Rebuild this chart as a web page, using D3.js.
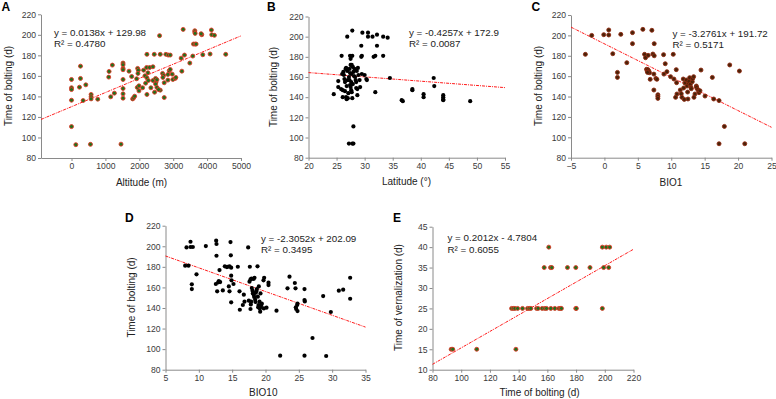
<!DOCTYPE html>
<html><head><meta charset="utf-8">
<script src="https://cdn.jsdelivr.net/npm/d3@7"></script>
<style>body{margin:0;background:#fff}svg{display:block;font-family:Arial,"Liberation Sans",sans-serif}</style>
</head><body><svg id="c" width="776" height="399"></svg>
<script>
// ---------- data ----------
const boltingTicks = [80,100,120,140,160,180,200,220];
const vernTicks = [10,15,20,25,30,35,40,45];
const altitudeTicks = [0,1000,2000,3000,4000,5000];
const latitudeTicks = [20,25,30,35,40,45,50,55];
const bio1Ticks = [-5,0,5,10,15,20,25];
const bio10Ticks = [5,10,15,20,25,30,35];
const boltingXTicks = [80,100,120,140,160,180,200,220];

// [altitude (m), time of bolting (d)]
const altitudeBolting = [[0,156.5],[0,148.4],[0,146.7],[0,136.3],[0,110.6],[127,93],[265,169.5],[265,157.5],[235,149],[343,136],[422,151.3],[559,93.3],[578,141.9],[578,139.6],[578,137.6],[775,137.3],[1108,164.3],[1098,158.8],[1157,139.6],[1206,170.5],[1265,143.2],[1460,93.5],[1520,172.5],[1520,170.8],[1520,167.3],[1520,166],[1520,156.5],[1520,147.7],[1520,142.5],[1520,138.3],[1696,164.6],[1775,159.4],[1804,137.6],[1833,138.6],[1863,140.2],[1922,157.2],[1941,148.7],[1951,167.3],[1971,165.6],[1961,162.4],[1990,145.4],[1990,150.3],[2098,148.4],[2127,165.6],[2167,160.1],[2186,152.9],[2225,181],[2216,168.2],[2255,163],[2225,158.1],[2265,155.5],[2225,141.9],[2304,168.2],[2343,148.4],[2402,168.9],[2402,155.5],[2441,181],[2451,144.1],[2480,157.5],[2490,153.6],[2480,152],[2520,156.2],[2520,148.7],[2598,199.2],[2618,181],[2618,146.1],[2569,146.7],[2686,162.4],[2716,160.4],[2696,158.5],[2735,153.3],[2735,138.9],[2784,181],[2853,180.3],[2912,180.3],[2843,161.4],[2843,155.9],[2882,165],[2912,166.3],[2971,161.7],[2990,156.5],[3059,157.5],[3078,158.5],[3255,164.6],[3235,177.3],[3294,205.3],[3333,180.3],[3490,172.5],[3578,179.3],[3598,191],[3647,191],[3676,191],[3637,204],[3637,202.7],[3647,201.4],[3843,200.1],[3824,201.1],[3873,180.6],[4088,181.3],[4127,204.7],[4137,200.1],[4216,199.5],[4549,181]];

// [latitude (°), time of bolting (d)]
const latitudeBolting = [[24.5,143],[25.3,156],[25.3,150],[25.9,181],[25.8,148],[26.1,147],[26.1,140],[26.2,165],[26.3,162],[26.4,158],[26.5,155],[26.6,168],[26.7,169],[26.8,151],[26.8,138],[26.9,166],[27.0,139],[26.9,200],[27.1,144],[27.2,160],[27.3,157],[27.4,152],[27.4,164],[27.5,150],[27.5,172],[27.4,181],[27.5,178],[27.7,172],[27.6,163],[27.8,181],[27.2,94],[27.8,94],[28.0,94],[28.0,111],[27.8,206],[27.6,147],[27.7,145],[27.8,139],[27.9,170],[28.0,165],[28.1,161],[28.2,168],[28.4,157],[28.5,155],[28.5,149],[28.6,166],[28.7,142],[28.7,148],[28.8,169],[29.1,157],[29.4,191],[29.4,180],[29.5,181],[29.5,163],[29.6,204],[30.0,162],[30.3,158],[30.4,157],[30.6,204],[30.6,200],[31.4,200],[31.6,180],[31.9,181],[31.9,145],[32.2,202],[32.2,191],[33.3,181],[33.3,200],[34.1,199],[34.5,159],[36.6,137],[36.8,136],[38.5,148],[38.5,147],[40.5,143],[40.5,140],[42.3,159],[42.4,151],[44.0,142],[44.0,140],[44.0,138],[44.0,137],[48.8,136],[26.0,163],[26.5,146],[27.0,157],[27.3,168],[27.6,155],[28.3,160],[26.7,140],[27.9,153],[28.9,162],[29.2,150]];

// [BIO1, time of bolting (d)]
const bio1Bolting = [[-2.85,181.4],[-1.9,200],[-0.1,200.7],[0.65,205.3],[0.65,200.4],[1.25,182],[1.95,163.7],[1.95,158.8],[2.45,201],[3.35,173.2],[4.2,202.7],[4.2,191.9],[5.75,205.9],[6.0,181.4],[6.15,178.1],[6.55,180.4],[6.3,166.7],[6.4,165],[6.5,166.5],[6.65,165],[6.75,163.4],[6.45,163.7],[6.85,156.9],[7.1,205],[7.25,181.7],[7.45,180],[7.45,191.9],[7.4,146.4],[7.4,162],[7.7,157.8],[7.85,156.9],[8.0,141.8],[8.0,140.2],[8.0,138.2],[8.9,162],[8.85,181.1],[9.1,172.2],[9.35,164.4],[9.9,159.5],[10.3,181.4],[10.4,157.2],[10.65,139.2],[10.75,166.4],[10.8,153.6],[10.85,142.5],[11.35,146.4],[11.5,142.8],[11.6,139.2],[11.8,157.2],[11.85,148.4],[11.95,137.2],[12.05,153.3],[12.25,156.2],[12.35,150.3],[12.45,144.4],[12.5,137.6],[12.6,153],[12.65,154.9],[12.75,158.5],[12.85,152],[12.95,149.1],[13,147.7],[13.15,154.6],[13.2,157.5],[13.35,159.5],[13.4,139.2],[13.55,142.5],[13.75,150.3],[13.8,149],[13.95,147],[14.1,145.7],[14.15,143.8],[14.3,145.7],[14.45,166],[15.05,140.5],[16.15,158.8],[16.35,137.6],[17.15,136],[17.95,110.7],[17.15,93.7],[18.75,171],[20.2,165],[21,93.7]];

// [BIO10, time of bolting (d)]
const bio10Bolting = [[7.95,181.1],[8.15,198.9],[8.45,181.1],[8.75,204.4],[8.75,199.3],[9.1,199.3],[8.95,163],[8.95,158.4],[9.65,172.7],[11.05,200.2],[12.6,205.4],[12.65,202.2],[12.65,190.8],[12.55,163.3],[12.75,156.2],[12.9,164.9],[13,166.2],[13.2,165.2],[13.1,176.9],[13.6,157.1],[13.9,180.5],[14.2,179.8],[14.35,180.1],[14.5,161],[14.6,156.2],[14.6,180.5],[14.75,204.1],[14.8,191.2],[14.85,179.2],[14.85,171.4],[14.9,166.9],[14.85,145.5],[15.2,163.3],[15.85,180.1],[16.1,156.2],[16.15,138.3],[16.6,142.9],[16.75,152.9],[16.85,146.1],[17.4,198.9],[17.5,147.1],[17.65,180.1],[17.6,165.6],[17.75,167.8],[17.9,168.5],[17.85,146.1],[17.75,139],[17.8,143.5],[17.95,159.4],[18.05,156.8],[18.1,154.2],[18.2,168.2],[18.25,152.6],[18.3,150.7],[18.35,169.4],[18.45,148.1],[18.5,145.8],[18.55,154.9],[18.65,156.5],[18.7,158.4],[18.8,180.5],[18.85,151],[18.9,140.6],[18.95,142.9],[19,161],[19.1,146.1],[19.15,139.6],[19.2,136.4],[19.25,154.2],[19.3,141.3],[19.35,142.9],[19.45,144.2],[19.75,139.6],[19.7,166.9],[19.8,169.4],[20.15,140.3],[20.45,164.6],[20.45,162.3],[21.65,137.4],[22.2,93.6],[23.3,159.1],[23.6,170.4],[24.4,164.3],[24.5,159.1],[24.55,140.6],[24.6,139],[24.75,142.9],[24.8,137],[24.8,144.2],[25.85,158.4],[25.85,147.7],[25.9,146.4],[25.85,93.6],[27.05,110.8],[28.65,151.6],[29.1,93.3],[29.8,136.1],[31,156.8],[31.65,157.8],[32.7,169.4],[32.7,149]];

// [time of bolting (d), time of vernalization (d)]
const boltingVern = [[93,15],[94.1,15],[110.8,15],[138.1,15],[135.1,25],[136.3,25],[137.4,25],[139.3,25],[142.7,25],[146.2,25],[147.4,25],[148.5,25],[152.5,25],[153.6,25],[156.4,25],[158.2,25],[159.4,25],[162.4,25],[165.2,25],[168,25],[169.1,25],[169.8,25],[179.8,25],[180.2,25],[198.3,25],[157.8,35],[162.2,35],[163.1,35],[174,35],[179.8,35],[189.7,35],[199.2,35],[202.7,35],[161,40],[198.3,40],[201,40],[203.4,40]];

const letters = ["A","B","C","D","E"];
const xTitles = ["Altitude (m)","Latitude (°)","BIO1","BIO10","Time of bolting (d)"];
const yTitles = ["Time of bolting (d)","Time of bolting (d)","Time of bolting (d)","Time of bolting (d)","Time of vernalization (d)"];
const slopes = [0.0138,-0.4257,-3.2761,-2.3052,0.2012];
const intercepts = [129.98,172.9,191.72,202.09,-4.7804];
const equations = ["y = 0.0138x + 129.98","y = -0.4257x + 172.9","y = -3.2761x + 191.72","y = -2.3052x + 202.09","y = 0.2012x - 4.7804"];
const r2s = ["R² = 0.4780","R² = 0.0087","R² = 0.5171","R² = 0.3495","R² = 0.6055"];

// ---------- layout ----------
const panels = [
 {data:altitudeBolting, xDom:[-900,5000], xTicks:altitudeTicks, yDom:[80,220], yTicks:boltingTicks,
  rect:{l:41,r:241,t:14.3,b:158}, style:"g", eq:[54,32.5], letter:[1.5,10.5], xt:[141.5,182], yt:[8.5,86]},
 {data:latitudeBolting, xDom:[20,55], xTicks:latitudeTicks, yDom:[80,220], yTicks:boltingTicks,
  rect:{l:308.5,r:505,t:16.5,b:157.7}, style:"k", eq:[409,32.5], letter:[267,10.5], xt:[406.5,181.5], yt:[273.5,87]},
 {data:bio1Bolting, xDom:[-5,25], xTicks:bio1Ticks, yDom:[80,220], yTicks:boltingTicks,
  rect:{l:571,r:771.5,t:15,b:157.7}, style:"c", eq:[672.5,33.5], letter:[531.5,10.5], xt:[671,182.5], yt:[538.5,86]},
 {data:bio10Bolting, xDom:[5,35], xTicks:bio10Ticks, yDom:[80,220], yTicks:boltingTicks,
  rect:{l:165.5,r:365.5,t:225.7,b:369.7}, style:"k", eq:[261,238.5], letter:[125,221.5], xt:[263.3,392.7], yt:[131.5,297.5]},
 {data:boltingVern, xDom:[80,220], xTicks:boltingXTicks, yDom:[10,45], yTicks:vernTicks,
  rect:{l:432.5,r:633.5,t:226.7,b:369.7}, style:"g", eq:[447.5,238], letter:[393,221.5], xt:[539.5,392.7], yt:[398,297.5]}
];

const styles = {
  g:{fill:"#22701c", stroke:"#e03a28"},
  c:{fill:"#4a2208", stroke:"#8e2a12"},
  k:{fill:"#000", stroke:"#000"}
};

const fmt = d3.format("d");
const svg = d3.select("#c");
panels.forEach((p,i)=>{
  const x = d3.scaleLinear().domain(p.xDom).range([p.rect.l,p.rect.r]);
  const y = d3.scaleLinear().domain(p.yDom).range([p.rect.b,p.rect.t]);
  const g = svg.append("g");

  const xa = g.append("g").attr("transform",`translate(0,${p.rect.b})`)
    .call(d3.axisBottom(x).tickValues(p.xTicks).tickFormat(fmt).tickSize(3).tickSizeOuter(0).tickPadding(2));
  const ya = g.append("g").attr("transform",`translate(${p.rect.l},0)`)
    .call(d3.axisLeft(y).tickValues(p.yTicks).tickFormat(fmt).tickSize(3).tickSizeOuter(0).tickPadding(2));
  [xa,ya].forEach(a=>{
    a.select(".domain").attr("stroke","#8a8a8a").attr("stroke-width",1);
    a.selectAll(".tick line").attr("stroke","#8a8a8a");
    a.selectAll(".tick text").attr("fill","#3a3a3a").attr("font-size","8.6px").attr("font-family","Arial, 'Liberation Sans', sans-serif");
  });

  // trendline
  g.append("line")
    .attr("x1",x(p.xDom[0])).attr("y1",y(slopes[i]*p.xDom[0]+intercepts[i]))
    .attr("x2",x(p.xDom[1])).attr("y2",y(slopes[i]*p.xDom[1]+intercepts[i]))
    .attr("stroke","#ff1a1a").attr("stroke-width",1).attr("stroke-dasharray","3,1,1,1");

  const st = styles[p.style];
  g.selectAll("circle.pt").data(p.data).enter().append("circle")
    .attr("class","pt")
    .attr("cx",d=>x(d[0])).attr("cy",d=>y(d[1])).attr("r",p.style==="k"?2.1:2.0)
    .attr("fill",st.fill).attr("stroke",st.stroke).attr("stroke-width",p.style==="k"?0:0.9);

  g.append("text").attr("x",p.eq[0]).attr("y",p.eq[1]).attr("dy","0.35em")
    .attr("font-size","9.8px").attr("fill","#222").text(equations[i]);
  g.append("text").attr("x",p.eq[0]).attr("y",p.eq[1]+11.4).attr("dy","0.35em")
    .attr("font-size","9.8px").attr("fill","#222").text(r2s[i]);

  g.append("text").attr("x",p.xt[0]).attr("y",p.xt[1]).attr("dy","0.35em")
    .attr("text-anchor","middle").attr("font-size","10px").attr("fill","#222").text(xTitles[i]);
  g.append("text").attr("transform",`translate(${p.yt[0]},${p.yt[1]}) rotate(-90)`).attr("dy","0.35em")
    .attr("text-anchor","middle").attr("font-size","10px").attr("fill","#222").text(yTitles[i]);

  g.append("text").attr("x",p.letter[0]).attr("y",p.letter[1])
    .attr("font-size","12px").attr("font-weight","bold").attr("fill","#000").text(letters[i]);
});
</script></body></html>
